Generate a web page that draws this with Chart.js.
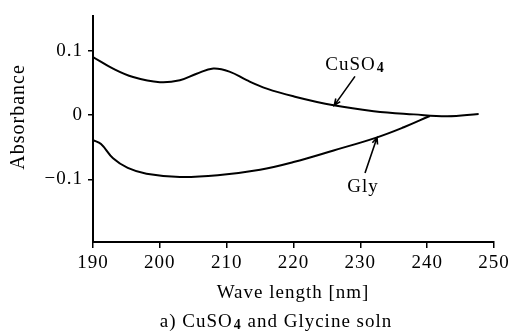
<!DOCTYPE html>
<html>
<head>
<meta charset="utf-8">
<script src="https://cdn.jsdelivr.net/npm/chart.js@4.4.1/dist/chart.umd.min.js"></script>
<style>
  html, body { margin: 0; padding: 0; background: #fff; }
  #wrap { width: 516px; height: 333px; }
</style>
</head>
<body>
<div id="wrap"><canvas id="chart" width="516" height="333"></canvas></div>
<script>
// values
const cuWave = [190, 193, 196, 200, 203, 205.5, 208, 210.5, 213, 216, 220, 226, 232, 238, 243, 247.7];
const cuAbs = [0.090, 0.072, 0.059, 0.051, 0.054, 0.064, 0.072, 0.067, 0.054, 0.041, 0.029, 0.015, 0.006, 0.001, -0.002, 0.0015];

const glyWave = [190, 191.2, 193, 195.2, 198, 203, 209, 215, 220, 226, 232.4, 236.5, 240.4];
const glyAbs = [-0.039, -0.045, -0.067, -0.082, -0.091, -0.096, -0.093, -0.085, -0.073, -0.055, -0.035, -0.019, -0.0015];

const xTicks = [190, 200, 210, 220, 230, 240, 250];
const yTicks = [-0.1, 0, 0.1];
const yTickLabels = ["\u22120.1", "0", "0.1"];

const serif = '"Liberation Serif", "DejaVu Serif", serif';

const toPoints = (xs, ys) => xs.map((x, i) => ({ x: x, y: ys[i] }));

// arrows and curve names, anchored in data units
const notes = [
  { text: "CuSO", sub: "4", at: [229.2, 0.070], tail: [229.2, 0.060], tip: [226.1, 0.015] },
  { text: "Gly", sub: "", at: [230.4, -0.119], tail: [230.7, -0.090], tip: [232.5, -0.035] },
];

const drawArrow = (ctx, x1, y1, x2, y2) => {
  const ang = Math.atan2(y2 - y1, x2 - x1);
  const head = 7;
  ctx.beginPath();
  ctx.moveTo(x1, y1);
  ctx.lineTo(x2, y2);
  ctx.moveTo(x2 - head * Math.cos(ang - 0.4), y2 - head * Math.sin(ang - 0.4));
  ctx.lineTo(x2, y2);
  ctx.lineTo(x2 - head * Math.cos(ang + 0.4), y2 - head * Math.sin(ang + 0.4));
  ctx.stroke();
};

// draws main text followed by a small bold subscript, centred on cx
const drawWithSub = (ctx, main, sub, cx, baseline, size) => {
  const subFont = `bold ${Math.round(size * 0.72)}px ${serif}`;
  ctx.font = `${size}px ${serif}`;
  const w1 = ctx.measureText(main).width;
  ctx.font = subFont;
  const w2 = sub ? ctx.measureText(sub).width + 1 : 0;
  const left = cx - (w1 + w2) / 2;
  ctx.textAlign = "left";
  ctx.textBaseline = "alphabetic";
  ctx.font = `${size}px ${serif}`;
  ctx.fillText(main, left, baseline);
  if (sub) {
    ctx.font = subFont;
    ctx.fillText(sub, left + w1 + 1, baseline + 2);
  }
};

const spacingPlugin = {
  id: "letterSpacing",
  beforeDraw(chart) {
    chart.ctx.letterSpacing = "1px";
  },
};

const textPlugin = {
  id: "figureText",
  afterDraw(chart) {
    const { ctx, scales } = chart;
    const xs = scales.x, ys = scales.y;
    ctx.save();
    ctx.letterSpacing = "1px";
    ctx.fillStyle = "#000";
    ctx.strokeStyle = "#000";
    ctx.lineWidth = 1.6;

    notes.forEach((n) => {
      drawWithSub(ctx, n.text, n.sub, xs.getPixelForValue(n.at[0]), ys.getPixelForValue(n.at[1]), 19);
      drawArrow(ctx,
        xs.getPixelForValue(n.tail[0]), ys.getPixelForValue(n.tail[1]),
        xs.getPixelForValue(n.tip[0]), ys.getPixelForValue(n.tip[1]));
    });

    // y axis title
    ctx.save();
    ctx.translate(19, 117);
    ctx.rotate(-Math.PI / 2);
    ctx.font = `20px ${serif}`;
    ctx.textAlign = "center";
    ctx.textBaseline = "middle";
    ctx.fillText("Absorbance", 0, 0);
    ctx.restore();

    // x axis title
    ctx.font = `19px ${serif}`;
    ctx.textAlign = "center";
    ctx.textBaseline = "alphabetic";
    ctx.fillText("Wave length [nm]", 293, 298);

    // caption: a) CuSO4 and Glycine soln
    const pre = "a) CuSO", post = " and Glycine soln";
    ctx.font = `19px ${serif}`;
    const wPre = ctx.measureText(pre).width;
    const wPost = ctx.measureText(post).width;
    ctx.font = `bold 14px ${serif}`;
    const wSub = ctx.measureText("4").width + 1;
    const left = 276 - (wPre + wSub + wPost) / 2;
    ctx.textAlign = "left";
    ctx.font = `19px ${serif}`;
    ctx.fillText(pre, left, 327);
    ctx.font = `bold 14px ${serif}`;
    ctx.fillText("4", left + wPre + 1, 329);
    ctx.font = `19px ${serif}`;
    ctx.fillText(post, left + wPre + wSub, 327);

    ctx.restore();
  },
};

new Chart(document.getElementById("chart"), {
  type: "line",
  data: {
    datasets: [
      { label: "CuSO4", data: toPoints(cuWave, cuAbs) },
      { label: "Gly", data: toPoints(glyWave, glyAbs) },
    ],
  },
  options: {
    responsive: false,
    animation: false,
    events: [],
    layout: { padding: { top: 13, right: 22, left: 0, bottom: 0 } },
    elements: {
      line: { borderColor: "#000", borderWidth: 2, tension: 0.4, fill: false },
      point: { radius: 0 },
    },
    plugins: { legend: { display: false }, tooltip: { enabled: false } },
    scales: {
      x: {
        type: "linear",
        min: 190,
        max: 250,
        afterFit: (s) => { s.height = 91; },
        afterBuildTicks: (s) => { s.ticks = xTicks.map((v) => ({ value: v })); },
        border: { display: true, color: "#000", width: 2 },
        grid: { drawOnChartArea: false, drawTicks: true, tickLength: 6, color: "#000", lineWidth: 1.5 },
        ticks: { color: "#000", padding: 4, maxRotation: 0, font: { family: serif, size: 19 } },
      },
      y: {
        type: "linear",
        min: -0.197,
        max: 0.153,
        afterFit: (s) => { s.width = 93; },
        afterBuildTicks: (s) => { s.ticks = yTicks.map((v) => ({ value: v })); },
        border: { display: true, color: "#000", width: 2 },
        grid: { drawOnChartArea: false, drawTicks: true, tickLength: 5, color: "#000", lineWidth: 1.5 },
        ticks: {
          color: "#000",
          padding: 5,
          font: { family: serif, size: 19 },
          callback: (v) => yTickLabels[yTicks.indexOf(v)] ?? "",
        },
      },
    },
  },
  plugins: [spacingPlugin, textPlugin],
});
</script>
</body>
</html>
